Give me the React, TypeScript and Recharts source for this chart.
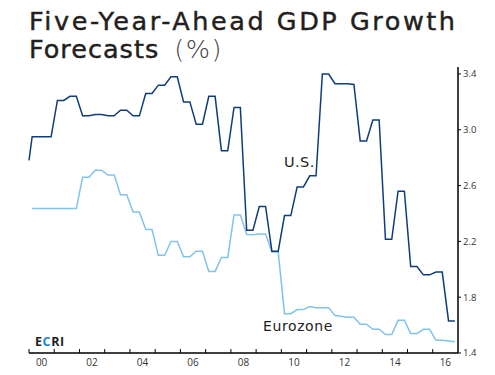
import React from "react";
import { LineChart, Line, XAxis, YAxis } from "recharts";

// Quarterly observation times (fractional years)
const times = [
  2000.0,
  2000.125, 2000.375, 2000.625, 2000.875,
  2001.125, 2001.375, 2001.625, 2001.875,
  2002.125, 2002.375, 2002.625, 2002.875,
  2003.125, 2003.375, 2003.625, 2003.875,
  2004.125, 2004.375, 2004.625, 2004.875,
  2005.125, 2005.375, 2005.625, 2005.875,
  2006.125, 2006.375, 2006.625, 2006.875,
  2007.125, 2007.375, 2007.625, 2007.875,
  2008.125, 2008.375, 2008.625, 2008.875,
  2009.125, 2009.375, 2009.625, 2009.875,
  2010.125, 2010.375, 2010.625, 2010.875,
  2011.125, 2011.375, 2011.625, 2011.875,
  2012.125, 2012.375, 2012.625, 2012.875,
  2013.125, 2013.375, 2013.625, 2013.875,
  2014.125, 2014.375, 2014.625, 2014.875,
  2015.125, 2015.375, 2015.625, 2015.875,
  2016.125, 2016.375, 2016.625, 2016.875,
];

const usForecast = [
  2.78,
  2.95, 2.95, 2.95, 2.95,
  3.21, 3.21, 3.24, 3.24,
  3.10, 3.10, 3.11, 3.11,
  3.10, 3.10, 3.14, 3.14,
  3.10, 3.10, 3.26, 3.26,
  3.32, 3.32, 3.38, 3.38,
  3.20, 3.20, 3.04, 3.04,
  3.24, 3.24, 2.85, 2.85,
  3.16, 3.16, 2.28, 2.28,
  2.45, 2.45, 2.13, 2.13,
  2.385, 2.385, 2.59, 2.59,
  2.67, 2.67, 3.40, 3.40,
  3.33, 3.33, 3.33, 3.325,
  2.92, 2.92, 3.07, 3.07,
  2.215, 2.215, 2.56, 2.56,
  2.02, 2.02, 1.96, 1.96,
  1.98, 1.98, 1.63, 1.63,
];

const euroForecast = [
  null,
  2.435, 2.435, 2.435, 2.435,
  2.435, 2.435, 2.435, 2.435,
  2.66, 2.66, 2.71, 2.71,
  2.675, 2.675, 2.535, 2.535,
  2.41, 2.41, 2.285, 2.285,
  2.10, 2.10, 2.20, 2.20,
  2.09, 2.09, 2.13, 2.13,
  1.985, 1.985, 2.085, 2.085,
  2.39, 2.39, 2.25, 2.248,
  2.253, 2.253, 2.124, 2.124,
  1.682, 1.682, 1.711, 1.711,
  1.733, 1.725, 1.725, 1.725,
  1.668, 1.663, 1.656, 1.656,
  1.606, 1.606, 1.57, 1.57,
  1.532, 1.532, 1.634, 1.634,
  1.539, 1.539, 1.57, 1.57,
  1.491, 1.491, 1.486, 1.481,
];

const yearTicks = [2000, 2001, 2002, 2003, 2004, 2005, 2006, 2007, 2008, 2009, 2010, 2011, 2012, 2013, 2014, 2015, 2016];
const valueTicks = [1.4, 1.8, 2.2, 2.6, 3.0, 3.4];

const data = times.map((t, i) => ({ t, us: usForecast[i], eu: euroForecast[i] }));

const FONT = "'Open Sans', 'DejaVu Sans', sans-serif";
const TITLE_FONT = "'DejaVu Sans', sans-serif";
const W = 495;
const H = 375;
const MARGIN = { top: 67, right: 6, bottom: 2, left: 29 };
const Y_AXIS_W = 31;
const HALF_YEAR_PX = (W - MARGIN.left - MARGIN.right - Y_AXIS_W) / 17 / 2;

const YearTick = (props: any) => {
  const { x, y, payload } = props;
  const yr = payload.value as number;
  const showLabel = yr % 2 === 0;
  return (
    <g>
      <line x1={x} x2={x} y1={y} y2={y - 4} stroke="#000" strokeWidth={1} />
      {showLabel && (
        <text x={x + HALF_YEAR_PX} y={y + 12.5} textAnchor="middle" fontSize={10} fill="#333" fontFamily={FONT}>
          {String(yr % 100).padStart(2, "0")}
        </text>
      )}
    </g>
  );
};

export default function App() {
  return (
    <div style={{ position: "absolute", left: 0, top: 0, width: W, height: H, background: "#fff" }}>
      <div style={{ position: "absolute", left: 0, top: 0 }}>
        <LineChart width={W} height={H} data={data} margin={MARGIN}>
          <XAxis
            dataKey="t"
            type="number"
            domain={[2000, 2017]}
            ticks={yearTicks}
            interval={0}
            tick={<YearTick />}
            tickLine={false}
            tickSize={0}
            tickMargin={0}
            height={20}
            axisLine={{ stroke: "#000", strokeWidth: 1.5 }}
          />
          <XAxis
            xAxisId="top"
            dataKey="t"
            type="number"
            domain={[2000, 2017]}
            orientation="top"
            tick={false}
            tickLine={false}
            height={0}
            axisLine={{ stroke: "#000", strokeWidth: 1.5 }}
          />
          <YAxis
            orientation="right"
            type="number"
            domain={[1.4, 3.45]}
            ticks={valueTicks}
            interval={0}
            width={Y_AXIS_W}
            tickSize={3}
            tickMargin={2}
            tickFormatter={(v: number) => v.toFixed(1)}
            tick={{ fontSize: 9.5, fill: "#333", fontFamily: FONT }}
            tickLine={{ stroke: "#000" }}
            axisLine={{ stroke: "#000", strokeWidth: 1.5 }}
          />
          <YAxis
            yAxisId="left"
            orientation="left"
            type="number"
            domain={[1.4, 3.45]}
            width={0}
            tick={false}
            tickLine={false}
            axisLine={{ stroke: "#000", strokeWidth: 1.5 }}
          />
          <Line
            type="linear"
            dataKey="eu"
            stroke="#82c3ea"
            strokeWidth={1.5}
            dot={false}
            isAnimationActive={false}
          />
          <Line
            type="linear"
            dataKey="us"
            stroke="#0f3d7c"
            strokeWidth={1.5}
            dot={false}
            isAnimationActive={false}
          />
        </LineChart>
      </div>
      <svg width={W} height={H} style={{ position: "absolute", left: 0, top: 0, pointerEvents: "none" }}>
        <text x={29} y={29.5} fontSize={25.5} letterSpacing={2.55} fill="#231f20" stroke="#231f20" strokeWidth={0.45} fontFamily={TITLE_FONT}>
          Five-Year-Ahead GDP Growth
        </text>
        <text x={29} y={58} fontSize={25.5} letterSpacing={1} fill="#231f20" stroke="#231f20" strokeWidth={0.45} fontFamily={TITLE_FONT}>
          Forecasts{" "}
          <tspan dx={6} fontWeight={200} fill="#444" stroke="none" letterSpacing={1.5}>(%)</tspan>
        </text>
        <text x={284} y={167} fontSize={14.5} letterSpacing={0.4} fill="#231f20" fontFamily={TITLE_FONT}>
          U.S.
        </text>
        <text x={263} y={331} fontSize={14} letterSpacing={0.6} fill="#231f20" fontFamily={TITLE_FONT}>
          Eurozone
        </text>
        <text x={35} y={346} fontSize={12.5} letterSpacing={0.6} fontWeight={700} fontFamily={FONT}>
          <tspan fill="#231f20">E</tspan>
          <tspan fill="#1a8ad4">C</tspan>
          <tspan fill="#231f20">RI</tspan>
        </text>
      </svg>
    </div>
  );
}
